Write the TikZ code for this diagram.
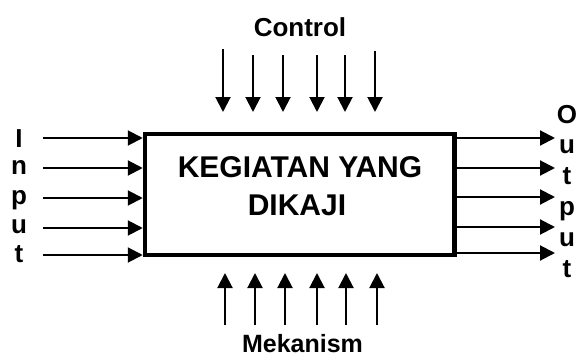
\documentclass[tikz,border=0pt]{standalone}
\usepackage{fontspec}
\setmainfont{Liberation Sans}
\usetikzlibrary{arrows.meta}
\begin{document}
\begin{tikzpicture}[x=1pt,y=-1pt,
  arr/.style={line width=2pt,-{Triangle[length=15pt,width=15pt]}},
  letter/.style={font=\bfseries\fontsize{26}{26}\selectfont, inner sep=0pt, anchor=base},
  titletext/.style={font=\bfseries\fontsize{30}{30}\selectfont, inner sep=0pt, anchor=base},
  boxstyle/.style={draw, line width=4.5pt, minimum width=309.5pt, minimum height=121pt, inner sep=0pt}]
\useasboundingbox (0,0) rectangle (582,356);
\node[boxstyle] (box) at (299.75,194.5) {};
\node[titletext] (t1) at (300,177) {KEGIATAN YANG};
\node[titletext] (t2) at (297,215) {DIKAJI};
% input
\foreach \i/\y in {1/138,2/168,3/198,4/228,5/255}{
  \coordinate (in\i) at (43,\y);
  \draw[arr] (in\i) -- (in\i -| box.west);
}
\foreach \i/\c/\y in {1/I/147,2/n/174,3/p/204,4/u/233,5/t/262}{
  \node[letter] (il\i) at (19,\y) {\c};
}
% output
\foreach \i/\y in {1/138,2/168,3/197,4/227,5/253}{
  \coordinate (out\i) at (555,\y);
  \draw[arr] (out\i -| box.east) -- (out\i);
}
\foreach \i/\c/\y in {1/O/123,2/u/153,3/t/184,4/p/215,5/u/246,6/t/277}{
  \node[letter] (ol\i) at (567,\y) {\c};
}
% control
\node[letter] (ctl) at (300,36) {Control};
\foreach \i/\x/\t in {1/223/49,2/253/55,3/283/55,4/317/55,5/345/55,6/375/51}{
  \coordinate (cs\i) at (\x,\t);
  \coordinate (ce\i) at (\x,112);
  \draw[arr] (cs\i) -- (ce\i);
}
% mechanism
\node[letter, font=\bfseries\fontsize{25}{25}\selectfont] (mek) at (302.5,352) {Mekanism};
\foreach \i/\x in {1/225,2/255,3/285,4/317,5/346,6/377}{
  \coordinate (ms\i) at (\x,325);
  \coordinate (me\i) at (\x,273);
  \draw[arr] (ms\i) -- (me\i);
}
\end{tikzpicture}
\end{document}
